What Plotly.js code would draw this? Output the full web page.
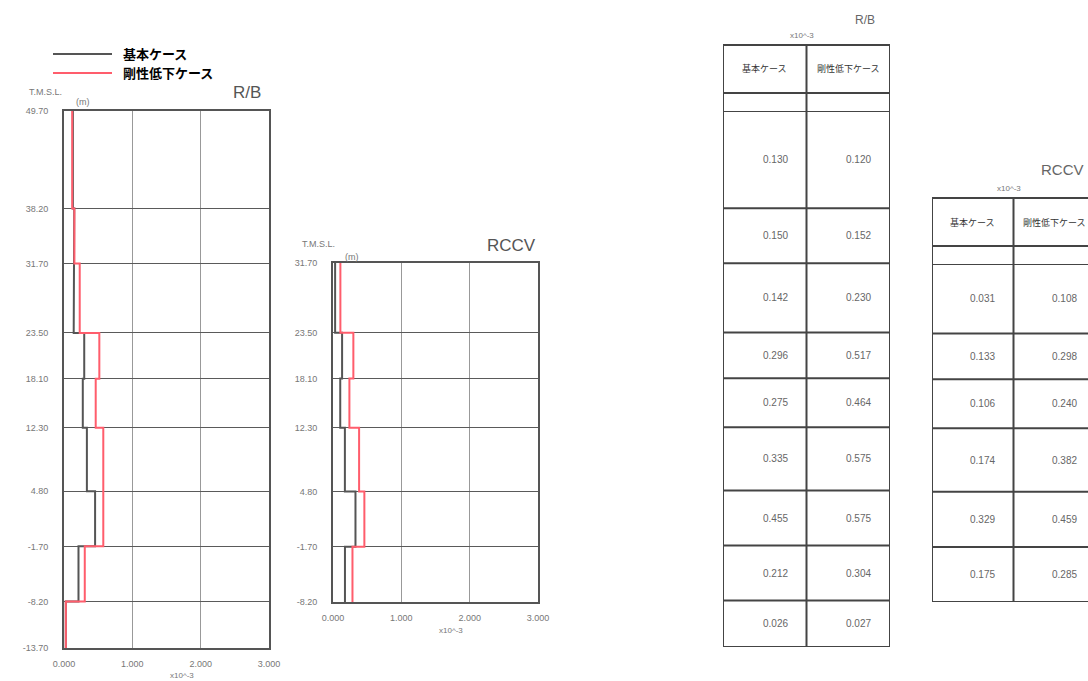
<!DOCTYPE html>
<html><head><meta charset="utf-8">
<script src="https://cdn.plot.ly/plotly-3.0.1.min.js"></script>
<style>html,body{margin:0;padding:0;background:#fff;}#chart{width:1088px;height:681px;}</style>
</head><body><div id="chart"></div>
<script>
// ---- data ----
const caseNames = ['基本ケース', '剛性低下ケース'];
const RB_levels = [49.70, 38.20, 31.70, 23.50, 18.10, 12.30, 4.80, -1.70, -8.20, -13.70];
const RB_base = [0.130, 0.150, 0.142, 0.296, 0.275, 0.335, 0.455, 0.212, 0.026];
const RB_low  = [0.120, 0.152, 0.230, 0.517, 0.464, 0.575, 0.575, 0.304, 0.027];
const RCCV_levels = [31.70, 23.50, 18.10, 12.30, 4.80, -1.70, -8.20];
const RCCV_base = [0.031, 0.133, 0.106, 0.174, 0.329, 0.175];
const RCCV_low  = [0.108, 0.298, 0.240, 0.382, 0.459, 0.285];
const xTicks = [0, 1, 2, 3];
const unitLabel = 'x10^-3';

// ---- helpers ----
const W = 1088, H = 681;
const X = px => px / W;
const Y = py => 1 - py / H;
const GRAY = '#555', RED = '#ff5d6c';
const SANS = 'Liberation Sans, Arial, sans-serif';
const tickFont = {family: SANS, size: 9, color: '#777'};

function stepXY(levels, vals) {
  const xs = [], ys = [];
  vals.forEach((v, i) => { xs.push(v, v); ys.push(levels[i], levels[i + 1]); });
  return {xs, ys};
}
function lineTrace(levels, vals, color, xa, ya, name) {
  const s = stepXY(levels, vals);
  return {type: 'scatter', mode: 'lines', x: s.xs, y: s.ys, xaxis: xa, yaxis: ya,
    name: name, showlegend: false, line: {color: color, width: 2}, hoverinfo: 'x+y'};
}

const traces = [
  lineTrace(RB_levels, RB_base, GRAY, 'x', 'y', caseNames[0]),
  lineTrace(RB_levels, RB_low, RED, 'x', 'y', caseNames[1]),
  lineTrace(RCCV_levels, RCCV_base, GRAY, 'x2', 'y2', caseNames[0]),
  lineTrace(RCCV_levels, RCCV_low, RED, 'x2', 'y2', caseNames[1])
];

function plotX(dom) {
  return {domain: dom, range: [0, 3], tickvals: xTicks, ticktext: xTicks.map(v => v.toFixed(3)),
    showgrid: true, gridcolor: '#999', gridwidth: 1, zeroline: false,
    showline: true, linecolor: GRAY, linewidth: 2, mirror: true, ticks: '',
    ticklabelstandoff: 6, tickfont: tickFont, fixedrange: true};
}
function plotY(dom, levels) {
  return {domain: dom, range: [levels[levels.length - 1], levels[0]], tickvals: levels,
    ticktext: levels.map(v => v.toFixed(2)), showgrid: true, gridcolor: '#5a5a5a', gridwidth: 1,
    zeroline: false, showline: true, linecolor: GRAY, linewidth: 2, mirror: true, ticks: '',
    ticklabelstandoff: 12, tickfont: tickFont, fixedrange: true};
}
function hidden(dom, range) {
  return {domain: dom, range: range, visible: false, fixedrange: true};
}

const shapes = [];
const annotations = [];

// ---- plot annotations ----
function plotDecor(xa, title, titleX, titleY, tmslX, tmslY, mX, mY, unitY) {
  annotations.push({xref: 'paper', yref: 'paper', x: X(titleX), y: Y(titleY), xanchor: 'right', yanchor: 'middle',
    text: title, showarrow: false, font: {family: SANS, size: 17, color: '#555'}});
  annotations.push({xref: 'paper', yref: 'paper', x: X(tmslX), y: Y(tmslY), xanchor: 'center', yanchor: 'middle',
    text: 'T.M.S.L.', showarrow: false, font: {family: SANS, size: 9, color: '#777'}});
  annotations.push({xref: 'paper', yref: 'paper', x: X(mX), y: Y(mY), xanchor: 'center', yanchor: 'middle',
    text: '(m)', showarrow: false, font: {family: SANS, size: 9, color: '#777'}});
  annotations.push({xref: xa, yref: 'paper', x: 1.73, y: Y(unitY), xanchor: 'center', yanchor: 'middle',
    text: unitLabel, showarrow: false, font: {family: SANS, size: 8, color: '#777'}});
}
plotDecor('x', 'R/B', 263, 93, 45, 92, 83, 102, 675);
plotDecor('x2', 'RCCV', 538, 245, 318, 244, 352, 257, 630);

// ---- legend (drawn) ----
[[GRAY, 54], [RED, 73]].forEach((c, i) => {
  shapes.push({type: 'line', xref: 'paper', yref: 'paper', x0: X(53), x1: X(112), y0: Y(c[1]), y1: Y(c[1]),
    line: {color: c[0], width: 2}});
  annotations.push({xref: 'paper', yref: 'paper', x: X(121), y: Y(c[1]), xanchor: 'left', yanchor: 'middle',
    text: '<b>' + caseNames[i] + '</b>', showarrow: false,
    font: {family: 'Noto Sans CJK JP, sans-serif', size: 13, color: '#000'}});
});

// ---- tables ----
function table(xa, ya, levels, base, low, domPx, titleText, titleSize, titlePos, unitPos) {
  const hPx = domPx[1] - domPx[0];
  const top = 1 + 66 / hPx, hdrBot = 1 + 18 / hPx;
  const line = {color: '#444', width: 2};
  [0, 1, 2].forEach(x => shapes.push({type: 'line', xref: xa, yref: ya + ' domain', x0: x, x1: x, y0: 0, y1: top, line: line}));
  [top, hdrBot].forEach(y => shapes.push({type: 'line', xref: xa, yref: ya + ' domain', x0: 0, x1: 2, y0: y, y1: y, line: line}));
  levels.forEach(l => shapes.push({type: 'line', xref: xa, yref: ya, x0: 0, x1: 2, y0: l, y1: l, line: line}));
  caseNames.forEach((n, i) => annotations.push({xref: xa, yref: ya + ' domain', x: i + 0.5, y: 1 + 42 / hPx,
    xanchor: 'center', yanchor: 'middle', text: n, showarrow: false,
    font: {family: 'Noto Sans CJK JP, sans-serif', size: 9, color: '#333'}}));
  [base, low].forEach((vals, c) => vals.forEach((v, i) => annotations.push({xref: xa, yref: ya,
    x: c + 0.8, y: (levels[i] + levels[i + 1]) / 2, xanchor: 'right', yanchor: 'middle',
    text: v.toFixed(3), showarrow: false, font: {family: SANS, size: 10, color: '#666'}})));
  annotations.push({xref: 'paper', yref: 'paper', x: X(titlePos[0]), y: Y(titlePos[1]), xanchor: 'center', yanchor: 'middle',
    text: titleText, showarrow: false, font: {family: SANS, size: titleSize, color: '#666'}});
  annotations.push({xref: 'paper', yref: 'paper', x: X(unitPos[0]), y: Y(unitPos[1]), xanchor: 'center', yanchor: 'middle',
    text: unitLabel, showarrow: false, font: {family: SANS, size: 8, color: '#777'}});
}
table('x3', 'y3', RB_levels, RB_base, RB_low, [111, 647], 'R/B', 12, [865, 20], [802, 36]);
table('x4', 'y4', RCCV_levels, RCCV_base, RCCV_low, [264, 602], 'RCCV', 15, [1062, 170], [1009, 189]);

const layout = {
  width: W, height: H, margin: {l: 0, r: 0, t: 0, b: 0},
  paper_bgcolor: '#fff', plot_bgcolor: '#fff', showlegend: false,
  xaxis: plotX([X(64), X(269)]), yaxis: plotY([Y(648), Y(111)], RB_levels),
  xaxis2: Object.assign(plotX([X(333), X(538)]), {anchor: 'y2'}),
  yaxis2: Object.assign(plotY([Y(602), Y(263)], RCCV_levels), {anchor: 'x2'}),
  xaxis3: Object.assign(hidden([X(723), X(890)], [0, 2]), {anchor: 'y3'}),
  yaxis3: Object.assign(hidden([Y(647), Y(111)], [RB_levels[RB_levels.length - 1], RB_levels[0]]), {anchor: 'x3'}),
  xaxis4: Object.assign(hidden([X(932), 1], [0, 2 * (W - 932) / 163]), {anchor: 'y4'}),
  yaxis4: Object.assign(hidden([Y(602), Y(264)], [RCCV_levels[RCCV_levels.length - 1], RCCV_levels[0]]), {anchor: 'x4'}),
  shapes: shapes, annotations: annotations
};
Plotly.newPlot('chart', traces, layout, {displayModeBar: false, staticPlot: true});
</script></body></html>
